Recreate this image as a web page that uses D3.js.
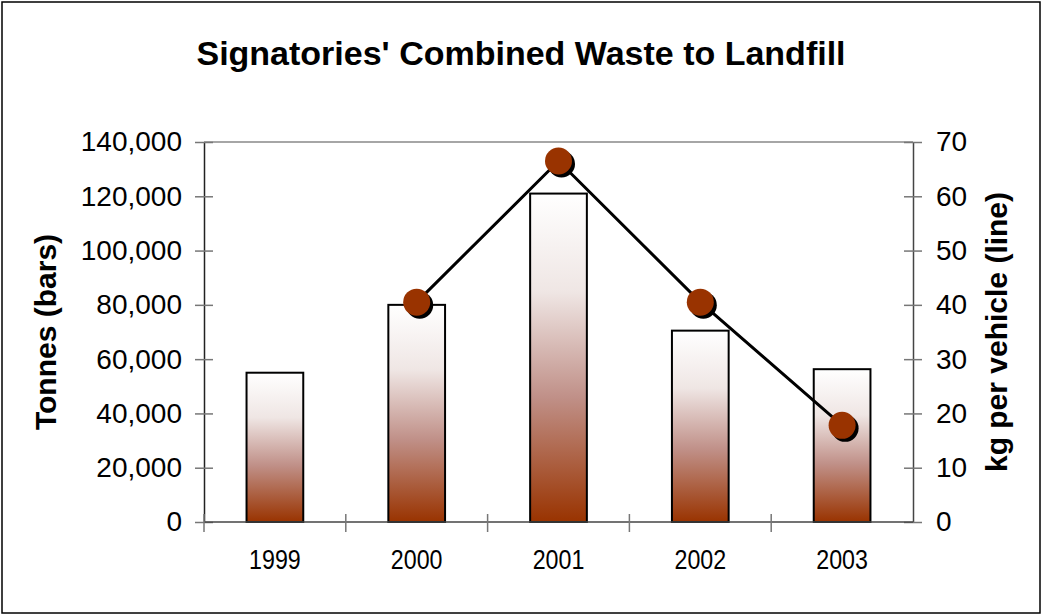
<!DOCTYPE html>
<html>
<head>
<meta charset="utf-8">
<script src="https://cdn.jsdelivr.net/npm/d3@7"></script>
<style>
  body { margin: 0; background: #fff; }
  svg text { font-family: "Liberation Sans", Arial, sans-serif; fill: #000; }
</style>
</head>
<body>
<div id="chart"></div>
<script>
// values
const years = ["1999", "2000", "2001", "2002", "2003"];
const tonnes = [55000, 80000, 121000, 70500, 56300];
const kgPerVehicle = [null, 40.5, 66.5, 40.5, 17.8];
const leftTicks = [0, 20000, 40000, 60000, 80000, 100000, 120000, 140000];
const rightTicks = [0, 10, 20, 30, 40, 50, 60, 70];

const width = 1042, height = 615;
const plot = { left: 204, right: 913, top: 142, bottom: 522 };
const FONT = "Liberation Sans, Arial, sans-serif";

const svg = d3.select("#chart").append("svg")
  .attr("width", width)
  .attr("height", height);

// outer frame
svg.append("rect")
  .attr("x", 2).attr("y", 2)
  .attr("width", width - 4).attr("height", height - 4)
  .attr("fill", "#fff")
  .attr("stroke", "#000")
  .attr("stroke-width", 1.5);

const defs = svg.append("defs");
const grad = defs.append("linearGradient")
  .attr("id", "barGrad")
  .attr("x1", 0).attr("y1", 0).attr("x2", 0).attr("y2", 1);
grad.append("stop").attr("offset", "0%").attr("stop-color", "#ffffff");
grad.append("stop").attr("offset", "30%").attr("stop-color", "#efe6e4");
grad.append("stop").attr("offset", "62%").attr("stop-color", "#c09088");
grad.append("stop").attr("offset", "100%").attr("stop-color", "#993300");

const x = d3.scaleBand()
  .domain(years)
  .range([plot.left, plot.right])
  .paddingInner(0.6)
  .paddingOuter(0.3);

const yL = d3.scaleLinear().domain([0, 140000]).range([plot.bottom, plot.top]);
const yR = d3.scaleLinear().domain([0, 70]).range([plot.bottom, plot.top]);

// top border of plot area
svg.append("line")
  .attr("x1", plot.left).attr("x2", plot.right)
  .attr("y1", plot.top).attr("y2", plot.top)
  .attr("stroke", "#888").attr("stroke-width", 1.5);

// bars
svg.append("g").selectAll("rect")
  .data(years)
  .join("rect")
  .attr("x", d => x(d))
  .attr("y", (d, i) => yL(tonnes[i]))
  .attr("width", x.bandwidth())
  .attr("height", (d, i) => plot.bottom - yL(tonnes[i]))
  .attr("fill", "url(#barGrad)")
  .attr("stroke", "#000")
  .attr("stroke-width", 2);

// left axis
const leftAxis = d3.axisLeft(yL).tickValues(leftTicks)
  .tickFormat(d3.format(",")).tickSizeInner(9).tickSizeOuter(0).tickPadding(13);
const gL = svg.append("g").attr("transform", `translate(${plot.left},0)`).call(leftAxis);
gL.select(".domain").attr("stroke", "#222").attr("stroke-width", 1.5);
gL.selectAll(".tick line").attr("x2", -9).attr("x1", 9).attr("stroke", "#777").attr("stroke-width", 1.5);
gL.selectAll(".tick text").attr("font-size", 28).attr("font-family", FONT).attr("fill", "#000");

// right axis
const rightAxis = d3.axisRight(yR).tickValues(rightTicks)
  .tickSizeInner(9).tickSizeOuter(0).tickPadding(14);
const gR = svg.append("g").attr("transform", `translate(${plot.right},0)`).call(rightAxis);
gR.select(".domain").attr("stroke", "#444").attr("stroke-width", 1.5);
gR.selectAll(".tick line").attr("x1", -9).attr("x2", 9).attr("stroke", "#777").attr("stroke-width", 1.5);
gR.selectAll(".tick text").attr("font-size", 28).attr("font-family", FONT).attr("fill", "#000");

// bottom axis: ticks at category boundaries
const boundaries = years.map(d => x(d) - x.step() * x.paddingInner() / 2).slice(1);
const gB = svg.append("g");
gB.append("line")
  .attr("x1", plot.left).attr("x2", plot.right)
  .attr("y1", plot.bottom).attr("y2", plot.bottom)
  .attr("stroke", "#444").attr("stroke-width", 1.5);
gB.selectAll("line.tick")
  .data([plot.left].concat(boundaries))
  .join("line")
  .attr("class", "tick")
  .attr("x1", d => d).attr("x2", d => d)
  .attr("y1", plot.bottom - 8).attr("y2", plot.bottom + 10)
  .attr("stroke", "#777").attr("stroke-width", 1.5);
// year labels are a bit narrower in the original
gB.selectAll("text")
  .data(years)
  .join("text")
  .attr("transform", d => `translate(${x(d) + x.bandwidth() / 2},569) scale(0.83,1)`)
  .attr("text-anchor", "middle")
  .attr("font-size", 28)
  .text(d => d);

// line series
const pts = years.map((d, i) => ({ year: d, v: kgPerVehicle[i] })).filter(p => p.v !== null);
const cx = p => x(p.year) + x.bandwidth() / 2;
const line = d3.line().x(cx).y(p => yR(p.v));
svg.append("path")
  .datum(pts)
  .attr("d", line)
  .attr("fill", "none")
  .attr("stroke", "#000")
  .attr("stroke-width", 3);

svg.selectAll("circle.shadow")
  .data(pts)
  .join("circle")
  .attr("class", "shadow")
  .attr("cx", p => cx(p) + 3)
  .attr("cy", p => yR(p.v) + 3)
  .attr("r", 13.5)
  .attr("fill", "#000");
svg.selectAll("circle.dot")
  .data(pts)
  .join("circle")
  .attr("class", "dot")
  .attr("cx", cx)
  .attr("cy", p => yR(p.v))
  .attr("r", 13.5)
  .attr("fill", "#993300");

// title and axis titles
svg.append("text")
  .attr("x", 521).attr("y", 65)
  .attr("text-anchor", "middle")
  .attr("font-size", 34).attr("font-weight", "bold")
  .text("Signatories' Combined Waste to Landfill");

svg.append("text")
  .attr("transform", "translate(56,332) rotate(-90)")
  .attr("text-anchor", "middle")
  .attr("font-size", 30).attr("font-weight", "bold")
  .text("Tonnes (bars)");

svg.append("text")
  .attr("transform", "translate(1007,332) rotate(-90)")
  .attr("text-anchor", "middle")
  .attr("font-size", 30).attr("font-weight", "bold")
  .text("kg per vehicle (line)");
</script>
</body>
</html>
